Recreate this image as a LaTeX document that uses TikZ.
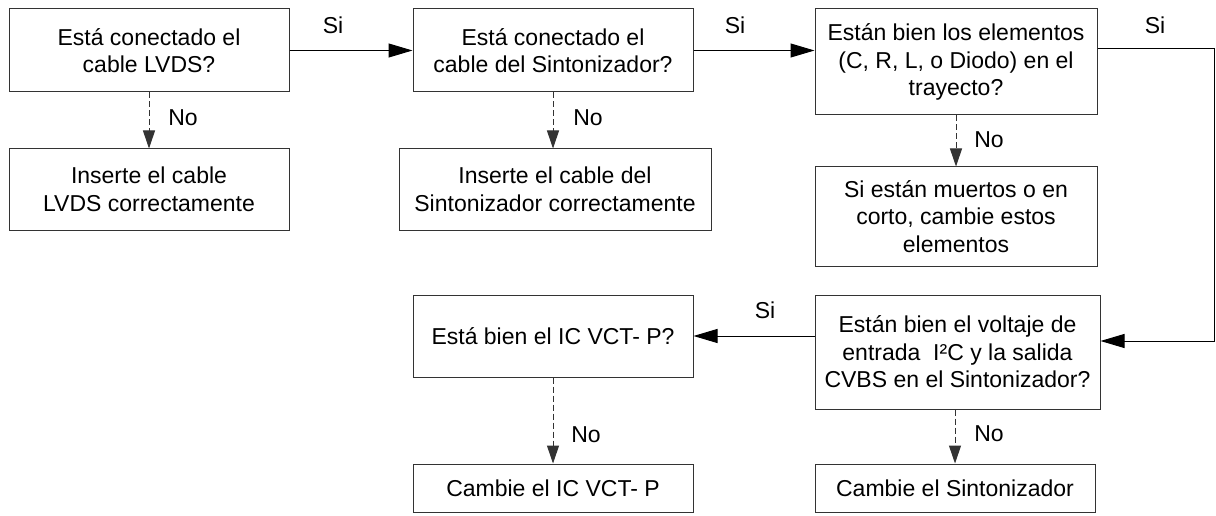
\documentclass[tikz,border=0pt]{standalone}
\usepackage{fontspec}
\setmainfont{Liberation Sans}
\usetikzlibrary{arrows.meta,calc}
\begin{document}
\begin{tikzpicture}[x=1pt,y=-1pt,
  box/.style={draw=black!80, line width=1pt, align=center, inner sep=0pt,
    font=\fontsize{23}{27.6}\selectfont},
  lbl/.style={inner sep=0pt, font=\fontsize{23}{27.6}\selectfont},
  arr/.style={draw=black, line width=1pt, -{Triangle[length=24pt,width=14pt]}},
  darr/.style={draw=black!80, line width=1pt, dash pattern=on 6pt off 3pt,
    -{Triangle[length=18pt,width=12pt]}}]
\useasboundingbox (0,0) rectangle (1216,516);
% boxes
\node[box, minimum width=280pt, minimum height=83pt] (b1) at (149,50.5) {Está conectado el\\cable LVDS?};
\node[box, minimum width=280pt, minimum height=81pt] (b1n) at (149,189.5) {Inserte el cable\\LVDS correctamente};
\node[box, minimum width=280pt, minimum height=83pt] (b2) at (553,50.5) {Está conectado el\\cable del Sintonizador?};
\node[box, minimum width=312pt, minimum height=81pt] (b2n) at (555,189.5) {Inserte el cable del\\Sintonizador correctamente};
\node[box, minimum width=282pt, minimum height=106pt] (b3) at (956,62) {Están bien los elementos\\(C, R, L, o Diodo) en el\\trayecto?};
\node[box, minimum width=282pt, minimum height=99pt] (b3n) at (956,216.5) {Si están muertos o en\\corto, cambie estos\\elementos};
\node[box, minimum width=285pt, minimum height=114pt] (b4) at (957.5,352) {Están bien el voltaje de\\entrada \ I²C y la salida\\CVBS en el Sintonizador?};
\node[box, minimum width=280pt, minimum height=48pt] (b4n) at (955,488) {Cambie el Sintonizador};
\node[box, minimum width=280pt, minimum height=82pt] (b5) at (553,336) {Está bien el IC VCT- P?};
\node[box, minimum width=280pt, minimum height=48pt] (b5n) at (553,488) {Cambie el IC VCT- P};
% solid connectors
\draw[arr] (b1.east) -- (b2.west);
\draw[arr] (b2.east) -- (b2.east -| b3.west);
\coordinate (r1) at (1214,49);
\coordinate (r2) at (1214,341);
\draw[arr] (b3.east |- r1) -- (r1) -- (r2) -- (r2 -| b4.east);
\draw[arr] (b4.west |- b5.east) -- (b5.east);
% dashed connectors
\draw[darr] (b1.south) -- (b1n.north);
\draw[darr] (b2.south) -- (b2.south |- b2n.north);
\draw[darr] (b3.south) -- (b3n.north);
\draw[darr] (b4n.north |- b4.south) -- (b4n.north);
\draw[darr] (b5.south) -- (b5n.north);
% labels
\node[lbl] (s1) at (333,25) {Si};
\node[lbl] (s2) at (735,25) {Si};
\node[lbl] (s3) at (1155,25) {Si};
\node[lbl] (s4) at (765,310) {Si};
\node[lbl] (n1) at (183,118) {No};
\node[lbl] (n2) at (588,118) {No};
\node[lbl] (n3) at (989,140) {No};
\node[lbl] (n4) at (586,435) {No};
\node[lbl] (n5) at (989,434) {No};
\end{tikzpicture}
\end{document}
